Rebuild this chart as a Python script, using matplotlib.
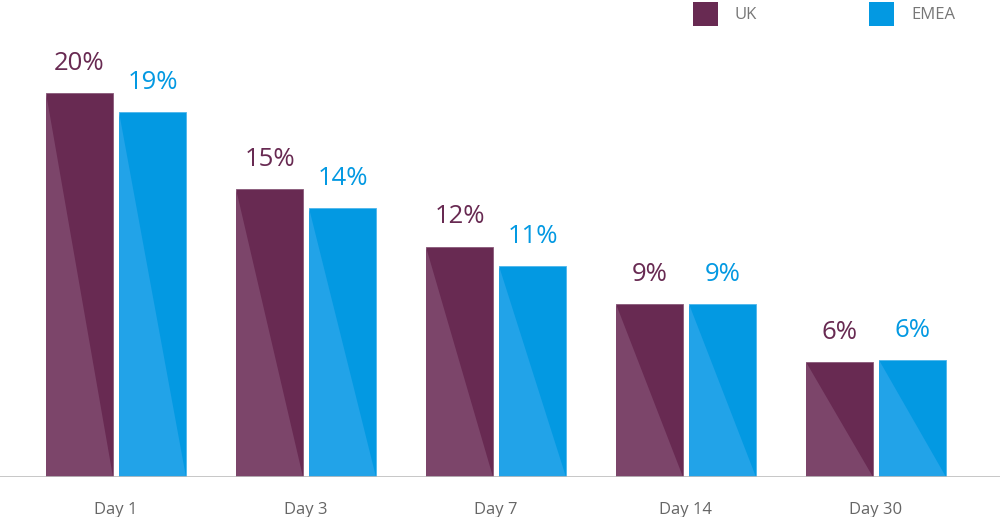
import matplotlib.pyplot as plt
from matplotlib.patches import Polygon, Rectangle

# ========== 数据 ==========
days = ['Day 1', 'Day 3', 'Day 7', 'Day 14', 'Day 30']
uk = [20, 15, 12, 9, 6]
emea = [19, 14, 11, 9, 6.1]
uk_labels = ['20%', '15%', '12%', '9%', '6%']
emea_labels = ['19%', '14%', '11%', '9%', '6%']

UK_DARK, UK_LIGHT = '#682A52', '#7C456A'
EM_DARK, EM_LIGHT = '#0399E2', '#22A3E8'

plt.rcParams['font.family'] = ['Open Sans', 'DejaVu Sans']

fig = plt.figure(figsize=(10, 5.17), dpi=100)
ax = fig.add_axes([0, 40 / 517, 1, 477 / 517])

x = list(range(len(days)))
w = 0.355
off = 0.192
bars_uk = ax.bar([i - off for i in x], uk, width=w, color=UK_DARK,
                 edgecolor='#8A5A7A', linewidth=0.6, zorder=2)
bars_em = ax.bar([i + off for i in x], emea, width=w, color=EM_DARK,
                 edgecolor='#4DB6EC', linewidth=0.6, zorder=2)

# 左下浅色三角
for bars, light in ((bars_uk, UK_LIGHT), (bars_em, EM_LIGHT)):
    for b in bars:
        x0, h, bw = b.get_x(), b.get_height(), b.get_width()
        tri = Polygon([(x0, h), (x0, 0), (x0 + bw, 0)], closed=True,
                      facecolor=light, edgecolor='none', zorder=3)
        ax.add_patch(tri)

# 数值标签
for bars, labels, col in ((bars_uk, uk_labels, UK_DARK),
                          (bars_em, emea_labels, EM_DARK)):
    for b, lab in zip(bars, labels):
        ax.text(b.get_x() + b.get_width() / 2, b.get_height() + 0.9, lab,
                ha='center', va='bottom', fontsize=18.5, color=col)

ax.set_xlim(-116 / 190, (1000 - 116) / 190)
ax.set_ylim(0, 477 / 19.2)
ax.axhline(0, color='#BDBDBD', linewidth=1.2, zorder=4)

ax.set_xticks(x)
ax.set_xticklabels(days, fontsize=12, color='#666666')
ax.tick_params(axis='x', length=0, pad=18)
ax.set_yticks([])
for s in ax.spines.values():
    s.set_visible(False)

# 图例
for px, col, name in ((693, UK_DARK, 'UK'), (869, EM_DARK, 'EMEA')):
    fig.add_artist(Rectangle((px / 1000, 1 - 26 / 517), 25 / 1000, 24 / 517,
                             transform=fig.transFigure, facecolor=col,
                             edgecolor='none'))
    fig.text((px + 42) / 1000, 1 - 15 / 517, name, ha='left', va='center',
             fontsize=12, color='#777777')

fig.savefig('out.png', dpi=100)
